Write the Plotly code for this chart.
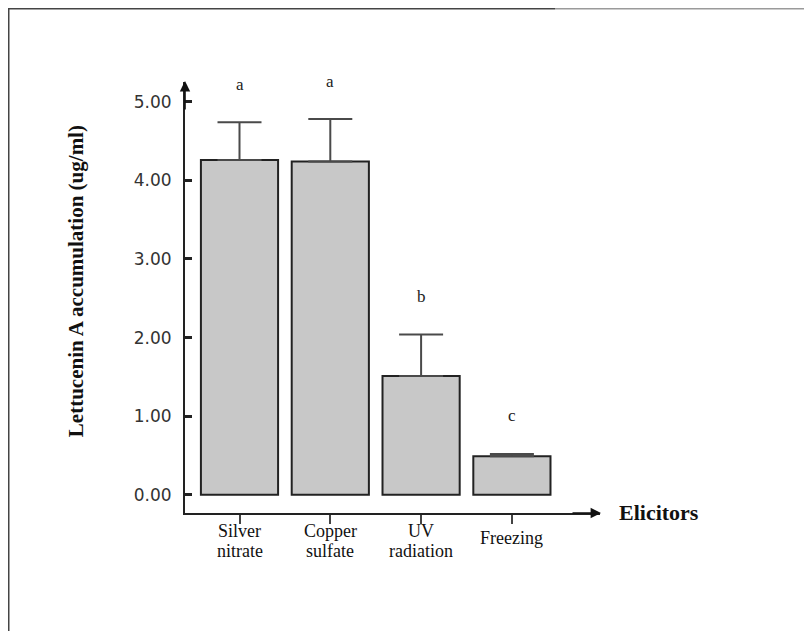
import plotly.graph_objects as go

categories = ["Silver<br>nitrate", "Copper<br>sulfate", "UV<br>radiation", "Freezing"]
means = [4.26, 4.24, 1.51, 0.49]
errors = [0.48, 0.54, 0.53, 0.03]
letters = ["a", "a", "b", "c"]
y_ticks = [0, 1, 2, 3, 4, 5]
y_tick_labels = ["0.00", "1.00", "2.00", "3.00", "4.00", "5.00"]

# the page has an 8px body margin: work in page pixels, shift into figure pixels
OFF = 8
W, H = 812 - OFF, 631 - OFF
L, R, T, B = 185 - OFF, 600 - OFF, 82 - OFF, 512.7 - OFF

def px(x):  # page x -> paper
    return (x - OFF - L) / (R - L)

def py(y):  # page y -> paper
    return (B - (y - OFF)) / (B - T)

fig = go.Figure()
fig.add_trace(go.Bar(
    x=list(range(len(categories))), y=means, width=0.85,
    marker=dict(color="#c8c8c8", line=dict(color="#222222", width=2)),
    error_y=dict(type="data", array=errors, arrayminus=[0]*len(errors), symmetric=False,
                 color="#4a4a4a", thickness=2, width=22),
    showlegend=False,
))

annotations = []
for i, (m, e, l) in enumerate(zip(means, errors, letters)):
    annotations.append(dict(x=i, y=m + e, xref="x", yref="y", text=l, showarrow=False,
                            yshift=38, font=dict(family="Liberation Serif", size=17, color="#222")))

# category labels (two lines, tight spacing as in the reference)
for i, c in enumerate(categories):
    parts = c.split("<br>")
    ys = [538] if len(parts) == 1 else [531, 551]
    for part, yy in zip(parts, ys):
        annotations.append(dict(x=i, y=py(yy), xref="x", yref="paper", text=part, showarrow=False,
                                yanchor="middle", xanchor="center",
                                font=dict(family="Liberation Serif", size=18, color="#111")))

# y-axis title
annotations.append(dict(x=px(76), y=py(281), xref="paper", yref="paper",
                        xanchor="center", yanchor="middle",
                        text="<b>Lettucenin A accumulation (ug/ml)</b>",
                        textangle=-90, showarrow=False,
                        font=dict(family="Liberation Serif", size=21, color="#111")))
# x-axis title
annotations.append(dict(x=px(617), y=py(512), xref="paper", yref="paper",
                        xanchor="left", yanchor="middle",
                        text="<b>Elicitors</b>", showarrow=False,
                        font=dict(family="Liberation Serif", size=22, color="#111")))
# arrows
annotations.append(dict(x=px(601), y=0, xref="paper", yref="paper", ax=-30, ay=0, text="",
                        showarrow=True, arrowhead=2, arrowsize=1.3, arrowwidth=1.6, arrowcolor="#111"))
annotations.append(dict(x=0, y=py(81), xref="paper", yref="paper", ax=0, ay=30, text="",
                        showarrow=True, arrowhead=2, arrowsize=1.3, arrowwidth=1.6, arrowcolor="#111"))

shapes = [
    dict(type="line", xref="paper", yref="paper", x0=px(7), x1=px(555), y0=py(8.5), y1=py(8.5),
         line=dict(color="#444", width=2)),
    dict(type="line", xref="paper", yref="paper", x0=px(555), x1=px(812), y0=py(8.5), y1=py(8.5),
         line=dict(color="#9a9a9a", width=2)),
    dict(type="line", xref="paper", yref="paper", x0=px(8.5), x1=px(8.5), y0=py(7), y1=py(640),
         line=dict(color="#444", width=2)),
]

scale = (494.5 - 101.7) / 5.0
ymin = -(512.7 - 494.5) / scale
ymax = (494.5 - 82) / scale
bar_w = 90.8
xmin = -(239.5 - 185) / bar_w
xmax = (600 - 239.5) / bar_w

fig.update_layout(
    width=W, height=H,
    margin=dict(l=L, r=W - R, t=T, b=H - B, pad=0),
    plot_bgcolor="white", paper_bgcolor="white",
    annotations=annotations, shapes=shapes,
    xaxis=dict(range=[xmin, xmax], tickvals=list(range(len(categories))),
               showticklabels=False,
               showline=True, linecolor="#222", linewidth=2, ticks="outside", ticklen=9,
               tickwidth=2, tickcolor="#444", showgrid=False, zeroline=False),
    yaxis=dict(range=[ymin, ymax], tickvals=y_ticks, ticktext=y_tick_labels,
               showline=True, linecolor="#222", linewidth=2, ticks="inside", ticklen=7,
               tickwidth=3, tickcolor="#222", showgrid=False, zeroline=False,
               ticklabelstandoff=8,
               tickfont=dict(family="DejaVu Sans", size=17, color="#333")),
)
fig.write_html("out.html")
